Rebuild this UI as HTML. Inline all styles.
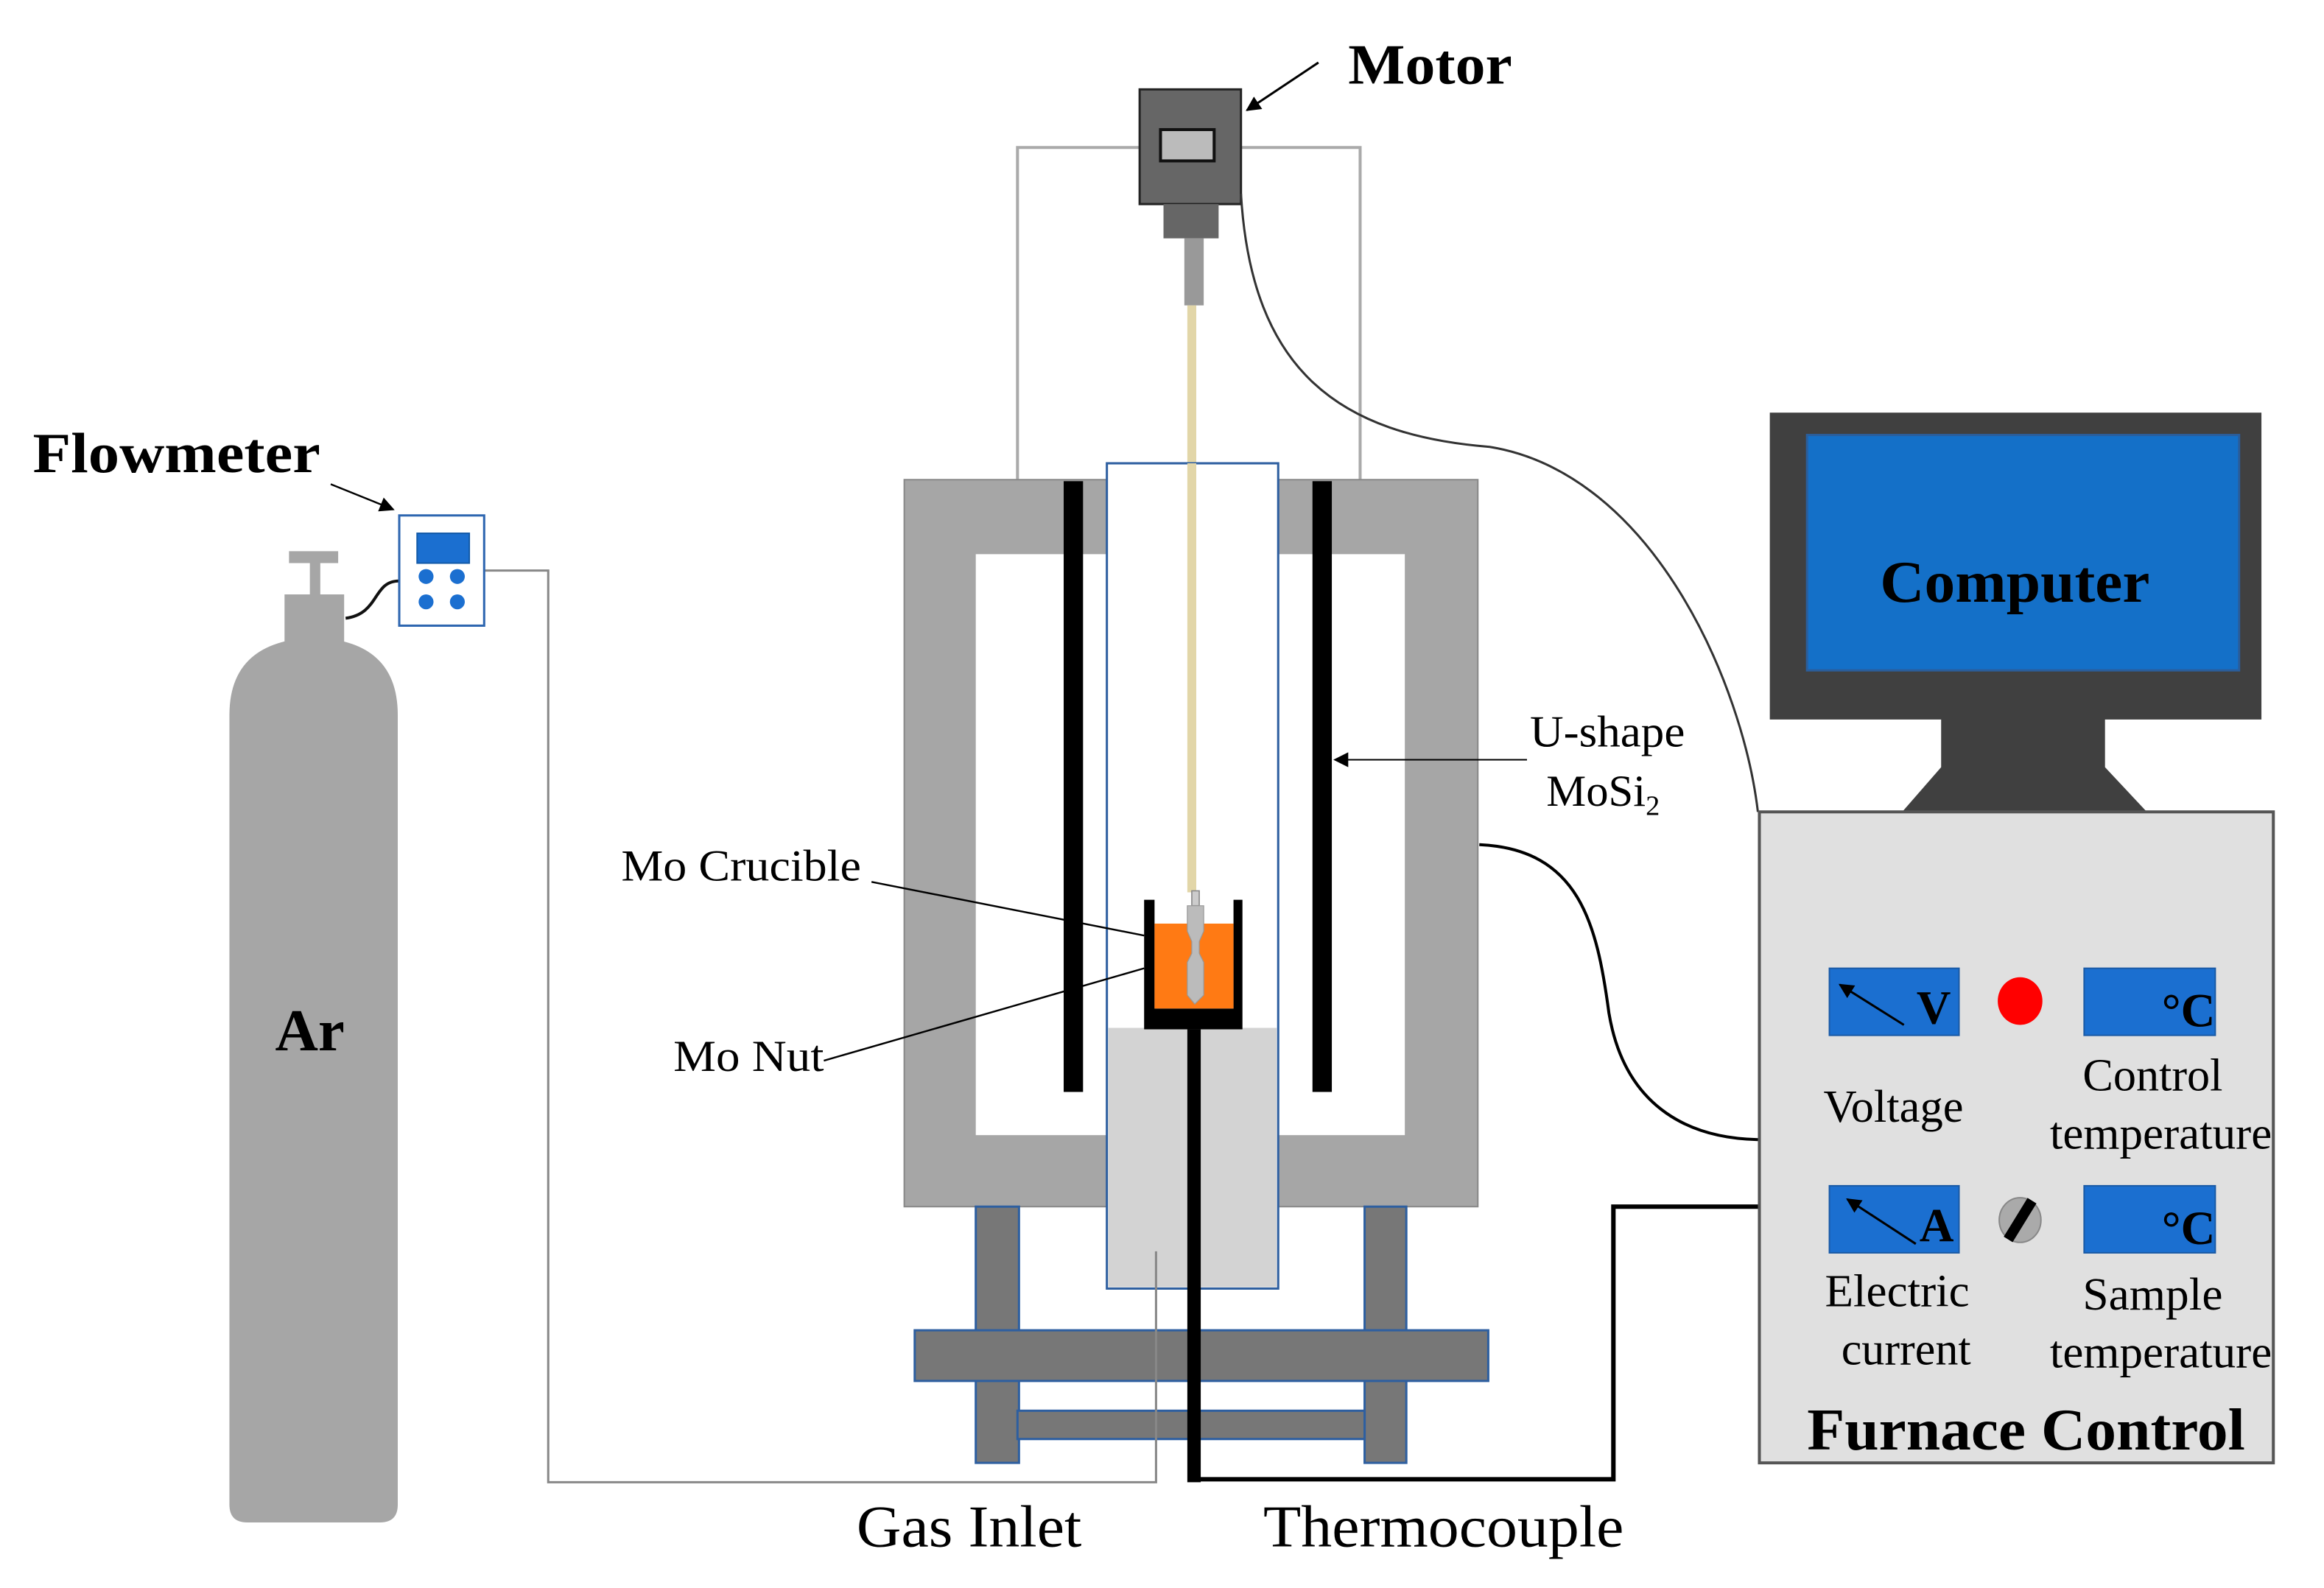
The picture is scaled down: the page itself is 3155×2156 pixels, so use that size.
<!DOCTYPE html>
<html><head><meta charset="utf-8"><style>html,body{margin:0;padding:0;background:#fff}svg{display:block}</style></head>
<body>
<svg width="3155" height="2156" viewBox="0 0 1560 1066" preserveAspectRatio="none" xmlns="http://www.w3.org/2000/svg" font-family="Liberation Serif, serif">
<defs>
<marker id="ah" markerWidth="10" markerHeight="10" refX="9" refY="5" orient="auto" markerUnits="userSpaceOnUse"><path d="M0,0 L10,5 L0,10 z" fill="#000"/></marker>
</defs>
<path d="M683,323 V99 H913 V323" fill="none" stroke="#aaa" stroke-width="2"/>
<rect x="765" y="60" width="68" height="77" fill="#666" stroke="#222" stroke-width="1.5"/>
<rect x="779" y="87" width="36" height="21" fill="#bbb" stroke="#111" stroke-width="2"/>
<rect x="781" y="137" width="37" height="23" fill="#666"/>
<rect x="795" y="160" width="13" height="45" fill="#999"/>
<rect x="797" y="205" width="6" height="392" fill="#e2d6a8"/>
<text x="905" y="56" font-size="38" font-weight="bold" textLength="110" lengthAdjust="spacingAndGlyphs">Motor</text>
<line x1="885" y1="42" x2="837" y2="74" stroke="#000" stroke-width="1.5" marker-end="url(#ah)"/>
<path d="M833,130 C840,250 900,292 1000,300 C1110,318 1170,460 1180,545" fill="none" stroke="#333" stroke-width="1.5"/>
<rect x="607" y="322" width="385" height="488" fill="#a6a6a6" stroke="#888" stroke-width="1"/>
<rect x="655" y="372" width="288" height="390" fill="#fff"/>
<rect x="655" y="810" width="29" height="172" fill="#777" stroke="#2e5fa0" stroke-width="1.5"/>
<rect x="916" y="810" width="28" height="172" fill="#777" stroke="#2e5fa0" stroke-width="1.5"/>
<rect x="683" y="947" width="233" height="19" fill="#777" stroke="#2e5fa0" stroke-width="1.5"/>
<rect x="614" y="893" width="385" height="34" fill="#777" stroke="#2e5fa0" stroke-width="1.5"/>
<rect x="743" y="311" width="115" height="554" fill="#fff" stroke="#2e5fa0" stroke-width="1.5"/>
<rect x="744" y="690" width="113" height="174" fill="#d3d3d3"/>
<rect x="797" y="311" width="6" height="288" fill="#e2d6a8"/>
<rect x="714" y="323" width="13" height="410" fill="#000"/>
<rect x="881" y="323" width="13" height="410" fill="#000"/>
<path d="M768,604 H775 V677 H828 V604 H834 V691 H768 Z" fill="#000"/>
<rect x="775" y="620" width="53" height="57" fill="#ff7a14"/>
<rect x="800" y="598" width="5" height="10" fill="#ccc" stroke="#888" stroke-width="0.8"/>
<path d="M797,608 H808 V625 L805,632 V640 L808,646 V668 L802,674 L797,668 V646 L800,640 V632 L797,625 Z" fill="#bbb" stroke="#999" stroke-width="0.6"/>
<rect x="797" y="691" width="9" height="304" fill="#000"/>
<path d="M802,993 H1083 V810 H1180" fill="none" stroke="#000" stroke-width="3"/>
<path d="M776,840 V995 H368 V383 H325" fill="none" stroke="#888" stroke-width="1.5"/>
<path d="M993,567 C1060,570 1072,620 1080,680 C1090,740 1130,764 1180,765" fill="none" stroke="#000" stroke-width="2"/>
<g font-size="30">
<text x="1027" y="501" textLength="104" lengthAdjust="spacingAndGlyphs">U-shape</text>
<text x="1038" y="541">MoSi<tspan font-size="19" dy="6">2</tspan></text>
<text x="417" y="591" textLength="161" lengthAdjust="spacingAndGlyphs">Mo Crucible</text>
<text x="452" y="719" textLength="101" lengthAdjust="spacingAndGlyphs">Mo Nut</text>
</g>
<line x1="1025" y1="510" x2="896" y2="510" stroke="#000" stroke-width="1" marker-end="url(#ah)"/>
<line x1="585" y1="592" x2="768" y2="628" stroke="#000" stroke-width="1.2"/>
<line x1="553" y1="712" x2="768" y2="650" stroke="#000" stroke-width="1.2"/>
<text x="575" y="1038" font-size="40" textLength="151" lengthAdjust="spacingAndGlyphs">Gas Inlet</text>
<text x="848" y="1038" font-size="40" textLength="242" lengthAdjust="spacingAndGlyphs">Thermocouple</text>
<rect x="194" y="370" width="33" height="8" fill="#a6a6a6"/>
<rect x="208" y="377" width="7" height="31" fill="#a6a6a6"/>
<rect x="191" y="399" width="40" height="36" fill="#a6a6a6"/>
<path d="M154,480 Q154,430 211,428 Q267,430 267,480 V1010 Q267,1022 255,1022 H166 Q154,1022 154,1010 Z" fill="#a6a6a6"/>
<text x="208" y="705" font-size="40" font-weight="bold" text-anchor="middle">Ar</text>
<path d="M232,415 C255,412 250,390 268,390" fill="none" stroke="#111" stroke-width="2"/>
<rect x="268" y="346" width="57" height="74" fill="#fff" stroke="#2e66b0" stroke-width="1.5"/>
<rect x="280" y="358" width="35" height="20" fill="#1b6fd0" stroke="#135aa8"/>
<circle cx="286" cy="387" r="5" fill="#1b6fd0"/><circle cx="307" cy="387" r="5" fill="#1b6fd0"/>
<circle cx="286" cy="404" r="5" fill="#1b6fd0"/><circle cx="307" cy="404" r="5" fill="#1b6fd0"/>
<text x="22" y="317" font-size="38" font-weight="bold" textLength="193" lengthAdjust="spacingAndGlyphs">Flowmeter</text>
<line x1="222" y1="325" x2="264" y2="342" stroke="#000" stroke-width="1.2" marker-end="url(#ah)"/>
<rect x="1188" y="277" width="330" height="206" fill="#404040"/>
<rect x="1213" y="292" width="290" height="158" fill="#1470c8" stroke="#2a5e9c" stroke-width="1.5"/>
<text x="1262" y="404" font-size="40" font-weight="bold" textLength="181" lengthAdjust="spacingAndGlyphs">Computer</text>
<rect x="1303" y="482" width="110" height="35" fill="#404040"/>
<path d="M1303,515 H1413 L1442,546 H1276 Z" fill="#404040"/>
<rect x="1181" y="545" width="345" height="437" fill="#e0e0e0" stroke="#555" stroke-width="2"/>
<rect x="1228" y="650" width="87" height="45" fill="#1b6fd0" stroke="#1a5aa6"/>
<line x1="1278" y1="688" x2="1235" y2="661" stroke="#000" stroke-width="1.5" marker-end="url(#ah)"/>
<text x="1298" y="687" font-size="32" font-weight="bold" text-anchor="middle">V</text>
<rect x="1399" y="650" width="88" height="45" fill="#1b6fd0" stroke="#1a5aa6"/>
<text x="1487" y="689" font-size="32" font-weight="bold" text-anchor="end">°C</text>
<ellipse cx="1356" cy="672" rx="15" ry="16" fill="#ff0000"/>
<rect x="1228" y="796" width="87" height="45" fill="#1b6fd0" stroke="#1a5aa6"/>
<line x1="1286" y1="835" x2="1240" y2="805" stroke="#000" stroke-width="1.5" marker-end="url(#ah)"/>
<text x="1300" y="833" font-size="32" font-weight="bold" text-anchor="middle">A</text>
<rect x="1399" y="796" width="88" height="45" fill="#1b6fd0" stroke="#1a5aa6"/>
<text x="1487" y="835" font-size="32" font-weight="bold" text-anchor="end">°C</text>
<ellipse cx="1356" cy="819" rx="14" ry="15" fill="#aaa" stroke="#888"/>
<line x1="1364" y1="806" x2="1348" y2="832" stroke="#000" stroke-width="7"/>
<g font-size="31" lengthAdjust="spacingAndGlyphs">
<text x="1224" y="753" textLength="94" lengthAdjust="spacingAndGlyphs">Voltage</text>
<text x="1398" y="732" textLength="94" lengthAdjust="spacingAndGlyphs">Control</text>
<text x="1376" y="771" textLength="149" lengthAdjust="spacingAndGlyphs">temperature</text>
<text x="1225" y="877" textLength="97" lengthAdjust="spacingAndGlyphs">Electric</text>
<text x="1236" y="916" textLength="87" lengthAdjust="spacingAndGlyphs">current</text>
<text x="1398" y="879" textLength="94" lengthAdjust="spacingAndGlyphs">Sample</text>
<text x="1376" y="918" textLength="149" lengthAdjust="spacingAndGlyphs">temperature</text>
</g>
<text x="1213" y="973" font-size="40" font-weight="bold" textLength="294" lengthAdjust="spacingAndGlyphs">Furnace Control</text>
</svg>
</body></html>
